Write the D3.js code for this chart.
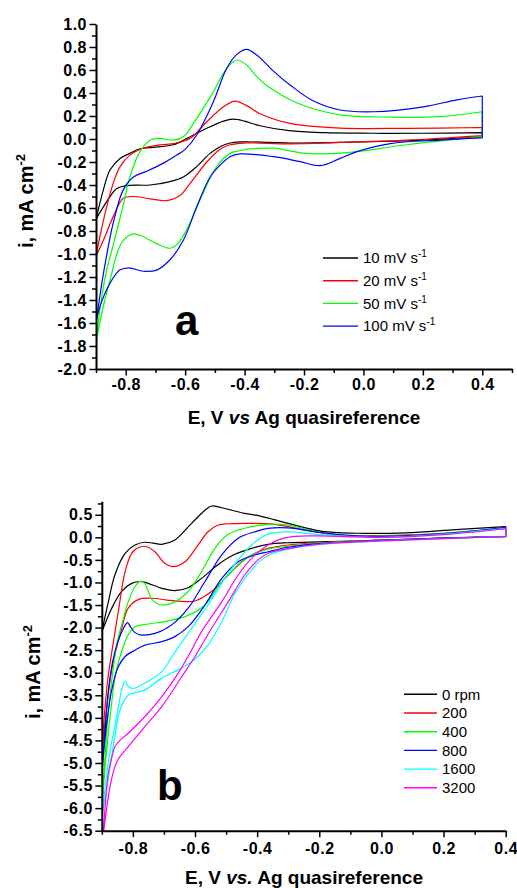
<!DOCTYPE html>
<html><head><meta charset="utf-8">
<script src="https://cdn.jsdelivr.net/npm/d3@7"></script>
<style>
body{margin:0;background:#fff;}
svg{display:block;}
text{font-family:"Liberation Sans",Arial,sans-serif;white-space:pre;}
</style></head><body>
<svg id="c" width="517" height="888"></svg>
<script>
// ---------- Panel a: CV at different scan rates (E in V, i in mA cm-2) ----------
const aLabels = ["10 mV s", "20 mV s", "50 mV s", "100 mV s"];
const aXTicks = [-0.8, -0.6, -0.4, -0.2, 0.0, 0.2, 0.4];
const aXMinor = [-0.9, -0.7, -0.5, -0.3, -0.1, 0.1, 0.3, 0.5];
const aYTicks = [1.0, 0.8, 0.6, 0.4, 0.2, 0.0, -0.2, -0.4, -0.6, -0.8, -1.0, -1.2, -1.4, -1.6, -1.8, -2.0];
const aYMinor = [0.9, 0.7, 0.5, 0.3, 0.1, -0.1, -0.3, -0.5, -0.7, -0.9, -1.1, -1.3, -1.5, -1.7, -1.9];

const a10 = [[-0.9,-0.70],[-0.875,-0.44],[-0.853,-0.27],[-0.819,-0.17],[-0.786,-0.125],[-0.752,-0.085],[-0.70,-0.07],[-0.64,-0.05],[-0.583,0.02],[-0.527,0.093],[-0.471,0.155],[-0.438,0.172],[-0.40,0.155],[-0.348,0.115],[-0.25,0.072],[-0.135,0.055],[0.03,0.05],[0.2,0.05],[0.4,0.055],
  [0.4,0.02],[0.2,-0.01],[0.03,-0.023],[-0.224,-0.035],[-0.415,-0.025],[-0.449,-0.035],[-0.482,-0.067],[-0.516,-0.125],[-0.561,-0.24],[-0.606,-0.33],[-0.651,-0.37],[-0.718,-0.40],[-0.797,-0.405],[-0.83,-0.43],[-0.864,-0.545],[-0.9,-0.70]];
const a20 = [[-0.9,-1.02],[-0.887,-0.85],[-0.864,-0.59],[-0.842,-0.385],[-0.819,-0.24],[-0.786,-0.14],[-0.741,-0.08],[-0.696,-0.055],[-0.64,-0.04],[-0.583,0.006],[-0.527,0.15],[-0.471,0.28],[-0.432,0.33],[-0.393,0.29],[-0.348,0.22],[-0.247,0.136],[-0.078,0.095],[0.146,0.093],[0.4,0.10],
  [0.4,0.03],[0.146,-0.01],[-0.078,-0.03],[-0.247,-0.043],[-0.40,-0.035],[-0.449,-0.05],[-0.482,-0.09],[-0.527,-0.2],[-0.583,-0.385],[-0.617,-0.49],[-0.662,-0.536],[-0.718,-0.52],[-0.774,-0.50],[-0.808,-0.516],[-0.842,-0.675],[-0.875,-0.88],[-0.9,-1.02]];
const a50 = [[-0.9,-1.77],[-0.885,-1.45],[-0.865,-1.15],[-0.845,-0.95],[-0.83,-0.8],[-0.808,-0.57],[-0.786,-0.33],[-0.752,-0.11],[-0.718,-0.01],[-0.685,0.006],[-0.64,-0.01],[-0.606,0.02],[-0.561,0.18],[-0.505,0.41],[-0.46,0.615],[-0.426,0.687],[-0.393,0.643],[-0.365,0.56],[-0.335,0.485],[-0.303,0.426],[-0.25,0.345],[-0.19,0.28],[-0.078,0.21],[0.09,0.19],[0.258,0.194],[0.4,0.237],
  [0.4,0.02],[0.146,-0.05],[-0.022,-0.11],[-0.135,-0.13],[-0.213,-0.12],[-0.303,-0.08],[-0.415,-0.10],[-0.449,-0.125],[-0.494,-0.24],[-0.55,-0.53],[-0.595,-0.79],[-0.628,-0.92],[-0.651,-0.95],[-0.696,-0.91],[-0.741,-0.85],[-0.774,-0.825],[-0.808,-0.88],[-0.83,-1.0],[-0.85,-1.2],[-0.875,-1.45],[-0.9,-1.77]];
const a100 = [[-0.9,-1.60],[-0.875,-1.17],[-0.842,-0.73],[-0.808,-0.44],[-0.774,-0.33],[-0.729,-0.28],[-0.673,-0.21],[-0.628,-0.14],[-0.6,-0.09],[-0.561,0.035],[-0.505,0.324],[-0.46,0.615],[-0.426,0.736],[-0.393,0.78],[-0.359,0.73],[-0.33,0.66],[-0.303,0.59],[-0.247,0.47],[-0.168,0.33],[-0.078,0.252],[0.034,0.237],[0.202,0.28],[0.315,0.34],[0.4,0.374],
  [0.4,0.01],[0.258,-0.009],[0.09,-0.04],[-0.022,-0.11],[-0.078,-0.168],[-0.146,-0.232],[-0.213,-0.197],[-0.303,-0.154],[-0.415,-0.13],[-0.449,-0.154],[-0.482,-0.226],[-0.516,-0.33],[-0.561,-0.59],[-0.606,-0.88],[-0.651,-1.05],[-0.696,-1.14],[-0.741,-1.15],[-0.79,-1.12],[-0.82,-1.14],[-0.853,-1.255],[-0.887,-1.46],[-0.9,-1.60]];
const aSeries = [a10, a20, a50, a100];
const aColors = ["#000000", "#ff0000", "#00ff00", "#0000ff"];

// ---------- Panel b: RDE at different rotation rates ----------
const bLabels = ["0 rpm", "200", "400", "800", "1600", "3200"];
const bXTicks = [-0.8, -0.6, -0.4, -0.2, 0.0, 0.2, 0.4];
const bXMinor = [-0.9, -0.7, -0.5, -0.3, -0.1, 0.1, 0.3];
const bYTicks = [0.5, 0.0, -0.5, -1.0, -1.5, -2.0, -2.5, -3.0, -3.5, -4.0, -4.5, -5.0, -5.5, -6.0, -6.5];
const bYMinor = [0.75, 0.25, -0.25, -0.75, -1.25, -1.75, -2.25, -2.75, -3.25, -3.75, -4.25, -4.75, -5.25, -5.75, -6.25];

const b0 = [[-0.9,-2.1],[-0.879,-1.43],[-0.858,-0.835],[-0.825,-0.354],[-0.793,-0.17],[-0.761,-0.11],[-0.735,-0.13],[-0.707,-0.155],[-0.665,-0.06],[-0.611,0.31],[-0.568,0.60],[-0.547,0.693],[-0.514,0.655],[-0.44,0.53],[-0.39,0.47],[-0.3,0.31],[-0.19,0.13],[-0.08,0.09],[0.08,0.10],[0.24,0.17],[0.4,0.235],
  [0.4,0.015],[0.19,-0.02],[-0.03,-0.07],[-0.2,-0.1],[-0.3,-0.12],[-0.365,-0.155],[-0.418,-0.244],[-0.472,-0.377],[-0.525,-0.60],[-0.579,-0.91],[-0.622,-1.116],[-0.665,-1.18],[-0.707,-1.13],[-0.772,-0.98],[-0.804,-1.02],[-0.836,-1.2],[-0.868,-1.57],[-0.9,-2.1]];
const b200 = [[-0.9,-4.8],[-0.89,-3.8],[-0.88,-3.1],[-0.868,-2.55],[-0.847,-1.65],[-0.825,-0.76],[-0.804,-0.354],[-0.783,-0.23],[-0.756,-0.21],[-0.729,-0.32],[-0.697,-0.576],[-0.67,-0.65],[-0.632,-0.54],[-0.59,-0.17],[-0.558,0.124],[-0.525,0.272],[-0.493,0.30],[-0.42,0.31],[-0.35,0.29],[-0.241,0.16],[-0.15,0.06],[0.0,0.04],[0.2,0.09],[0.4,0.20],
  [0.4,0.02],[0.2,-0.02],[0.0,-0.06],[-0.2,-0.12],[-0.3,-0.17],[-0.365,-0.244],[-0.407,-0.354],[-0.45,-0.54],[-0.493,-0.835],[-0.547,-1.2],[-0.6,-1.41],[-0.64,-1.42],[-0.69,-1.39],[-0.74,-1.35],[-0.783,-1.38],[-0.815,-1.57],[-0.836,-2.02],[-0.858,-2.6],[-0.872,-3.1],[-0.884,-3.8],[-0.9,-4.8]];
const b400 = [[-0.9,-6.05],[-0.89,-4.9],[-0.878,-3.8],[-0.865,-3.0],[-0.85,-2.3],[-0.836,-1.94],[-0.815,-1.43],[-0.793,-1.09],[-0.775,-0.97],[-0.762,-1.02],[-0.75,-1.2],[-0.738,-1.38],[-0.707,-1.5],[-0.665,-1.43],[-0.622,-1.2],[-0.579,-0.76],[-0.536,-0.244],[-0.493,0.066],[-0.44,0.2],[-0.365,0.288],[-0.3,0.27],[-0.241,0.177],[-0.15,0.05],[0.0,0.03],[0.2,0.09],[0.4,0.21],
  [0.4,0.02],[0.2,-0.02],[0.0,-0.07],[-0.2,-0.13],[-0.3,-0.2],[-0.365,-0.26],[-0.418,-0.39],[-0.472,-0.69],[-0.514,-0.98],[-0.568,-1.5],[-0.622,-1.73],[-0.686,-1.85],[-0.75,-1.92],[-0.793,-1.98],[-0.815,-2.16],[-0.836,-2.53],[-0.855,-3.0],[-0.872,-3.9],[-0.888,-5.0],[-0.9,-6.05]];
const b800 = [[-0.9,-5.26],[-0.89,-4.3],[-0.879,-3.4],[-0.865,-2.75],[-0.85,-2.35],[-0.836,-2.1],[-0.825,-1.95],[-0.817,-1.89],[-0.808,-1.98],[-0.795,-2.1],[-0.777,-2.16],[-0.729,-2.13],[-0.675,-1.94],[-0.622,-1.57],[-0.568,-0.98],[-0.514,-0.39],[-0.461,-0.02],[-0.407,0.124],[-0.365,0.2],[-0.3,0.21],[-0.2,0.11],[-0.1,0.04],[0.0,0.02],[0.2,0.08],[0.4,0.22],
  [0.4,0.02],[0.2,-0.02],[0.0,-0.07],[-0.2,-0.14],[-0.3,-0.22],[-0.365,-0.32],[-0.407,-0.39],[-0.461,-0.54],[-0.514,-0.91],[-0.568,-1.5],[-0.622,-1.98],[-0.665,-2.2],[-0.707,-2.31],[-0.761,-2.39],[-0.793,-2.5],[-0.825,-2.64],[-0.847,-2.87],[-0.868,-3.38],[-0.884,-4.12],[-0.9,-5.26]];
const b1600 = [[-0.9,-6.2],[-0.885,-5.3],[-0.87,-4.6],[-0.855,-4.1],[-0.845,-3.7],[-0.835,-3.35],[-0.825,-3.18],[-0.815,-3.3],[-0.8,-3.35],[-0.78,-3.3],[-0.761,-3.23],[-0.707,-2.98],[-0.672,-2.62],[-0.64,-2.3],[-0.611,-2.02],[-0.558,-1.5],[-0.504,-0.91],[-0.461,-0.5],[-0.418,-0.17],[-0.365,0.07],[-0.3,0.12],[-0.2,0.06],[0.0,0.0],[0.2,0.07],[0.4,0.2],
  [0.4,0.02],[0.2,-0.03],[0.0,-0.08],[-0.2,-0.16],[-0.3,-0.26],[-0.35,-0.36],[-0.386,-0.5],[-0.43,-0.82],[-0.472,-1.25],[-0.514,-1.87],[-0.558,-2.39],[-0.6,-2.7],[-0.65,-2.92],[-0.707,-3.12],[-0.761,-3.38],[-0.815,-3.5],[-0.84,-3.8],[-0.86,-4.5],[-0.878,-5.3],[-0.9,-6.2]];
const b3200 = [[-0.9,-6.9],[-0.895,-6.5],[-0.879,-5.23],[-0.865,-4.8],[-0.858,-4.64],[-0.845,-4.52],[-0.815,-4.34],[-0.761,-3.97],[-0.707,-3.53],[-0.654,-3.01],[-0.611,-2.5],[-0.579,-2.09],[-0.514,-1.43],[-0.461,-0.835],[-0.407,-0.39],[-0.365,-0.17],[-0.33,-0.05],[-0.28,0.02],[-0.2,0.03],[0.0,0.0],[0.2,0.06],[0.4,0.19],
  [0.4,0.02],[0.2,-0.03],[0.0,-0.08],[-0.2,-0.15],[-0.3,-0.25],[-0.365,-0.354],[-0.397,-0.5],[-0.44,-0.835],[-0.493,-1.43],[-0.547,-2.02],[-0.6,-2.64],[-0.643,-3.09],[-0.707,-3.75],[-0.761,-4.19],[-0.815,-4.64],[-0.85,-4.95],[-0.87,-5.4],[-0.89,-6.3],[-0.9,-6.9]];
const bSeries = [b0, b200, b400, b800, b1600, b3200];
const bColors = ["#000000", "#ff0000", "#00ff00", "#0000ff", "#00ffff", "#ff00ff"];

// ---------- drawing ----------
const svg = d3.select("#c");
const FONT = '"Liberation Sans", Arial, sans-serif';
const fmt = d => d.toFixed(1);

function drawPanel(o) {
  const x = d3.scaleLinear().domain(o.xDomain).range(o.xRange);
  const y = d3.scaleLinear().domain(o.yDomain).range(o.yRange);
  const g = svg.append("g");
  svg.append("clipPath").attr("id", o.id + "clip").append("rect")
    .attr("x", o.xRange[0]).attr("y", o.yRange[1])
    .attr("width", o.xRange[1] - o.xRange[0] + 2).attr("height", o.yRange[0] - o.yRange[1]);
  const line = d3.line().x(d => x(d[0])).y(d => y(d[1])).curve(d3.curveCatmullRom.alpha(0.5));
  // a loop = anodic branch + straight switch at the vertex + cathodic branch
  const loop = s => {
    const k = s.findIndex((d, i) => i > 0 && d[0] === s[i - 1][0]);
    if (k < 0) return line(s);
    return line(s.slice(0, k)) + line(s.slice(k)).replace(/^M/, "L");
  };
  const lg = g.append("g").attr("clip-path", `url(#${o.id}clip)`);
  o.series.forEach((s, i) => {
    lg.append("path").attr("d", loop(s)).attr("fill", "none")
      .attr("stroke", o.colors[i]).attr("stroke-width", 1.2).attr("stroke-linejoin", "round");
  });

  const y0 = o.yRange[0], x0 = o.xRange[0];
  const xm = g.append("g").attr("transform", `translate(0,${y0})`)
    .call(d3.axisBottom(x).tickValues(o.xMinor).tickSize(4).tickFormat(""));
  xm.select(".domain").remove();
  const ym = g.append("g").attr("transform", `translate(${x0},0)`)
    .call(d3.axisLeft(y).tickValues(o.yMinor).tickSize(4).tickFormat(""));
  ym.select(".domain").remove();
  const xa = g.append("g").attr("transform", `translate(0,${y0})`)
    .call(d3.axisBottom(x).tickValues(o.xTicks).tickSize(6.5).tickSizeOuter(0).tickPadding(o.xPad).tickFormat(fmt));
  const ya = g.append("g").attr("transform", `translate(${x0},0)`)
    .call(d3.axisLeft(y).tickValues(o.yTicks).tickSize(6.5).tickSizeOuter(0).tickPadding(2.5).tickFormat(fmt));
  [xm, ym, xa, ya].forEach(a => {
    a.selectAll(".tick line").attr("stroke", "#000").attr("stroke-width", 1.5);
    a.select(".domain").attr("stroke", "#000").attr("stroke-width", 2);
    a.attr("font-family", FONT).attr("font-size", 16).attr("font-weight", "bold");
    a.selectAll("text").attr("fill", "#000").style("letter-spacing", "0.5px");
  });

  const xt = svg.append("text").attr("x", o.xTitleX).attr("y", o.xTitleY).attr("text-anchor", "middle")
    .attr("font-size", 19).attr("font-weight", "bold");
  xt.append("tspan").text("E, V ");
  xt.append("tspan").attr("font-style", "italic").text(o.vs);
  xt.append("tspan").text(" Ag quasireference");
  const yt = svg.append("text").attr("transform", `translate(${o.yTitleX},${o.yTitleY}) rotate(-90)`)
    .attr("text-anchor", "middle").attr("font-size", 20).attr("font-weight", "bold");
  yt.append("tspan").text("i, mA cm");
  yt.append("tspan").attr("font-size", 13).attr("dy", -8).text("-2");
  svg.append("text").attr("x", o.letterX).attr("y", o.letterY).attr("font-size", 42)
    .attr("font-weight", "bold").text(o.letter);
  o.labels.forEach((lab, i) => {
    const ly = o.legY + i * o.legStep;
    svg.append("line").attr("x1", o.legX1).attr("x2", o.legX2).attr("y1", ly).attr("y2", ly)
      .attr("stroke", o.colors[i]).attr("stroke-width", 1.4);
    const t = svg.append("text").attr("x", o.legX2 + 5).attr("y", ly + 5.3).attr("font-size", 15);
    t.append("tspan").text(lab);
    if (o.sup) t.append("tspan").attr("font-size", 10).attr("dy", -6).text(o.sup);
  });
}

drawPanel({
  id: "a", series: aSeries, colors: aColors, labels: aLabels, sup: "-1",
  xDomain: [-0.9, 0.5], xRange: [96, 512], yDomain: [-2.0, 1.0], yRange: [369, 24],
  xTicks: aXTicks, xMinor: aXMinor, yTicks: aYTicks, yMinor: aYMinor, xPad: 3.5,
  xTitleX: 304, xTitleY: 424, vs: "vs", yTitleX: 33, yTitleY: 201,
  letter: "a", letterX: 175, letterY: 335,
  legX1: 323, legX2: 358, legY: 258, legStep: 22.7
});
drawPanel({
  id: "b", series: bSeries, colors: bColors, labels: bLabels, sup: null,
  xDomain: [-0.9, 0.4], xRange: [101.8, 505.7], yDomain: [-6.5, 0.8], yRange: [830.7, 501.2],
  xTicks: bXTicks, xMinor: bXMinor, yTicks: bYTicks, yMinor: bYMinor, xPad: 5,
  xTitleX: 304, xTitleY: 884, vs: "vs.", yTitleX: 40, yTitleY: 672,
  letter: "b", letterX: 157, letterY: 800,
  legX1: 404, legX2: 437, legY: 694.3, legStep: 18.7
});
</script>
</body></html>
